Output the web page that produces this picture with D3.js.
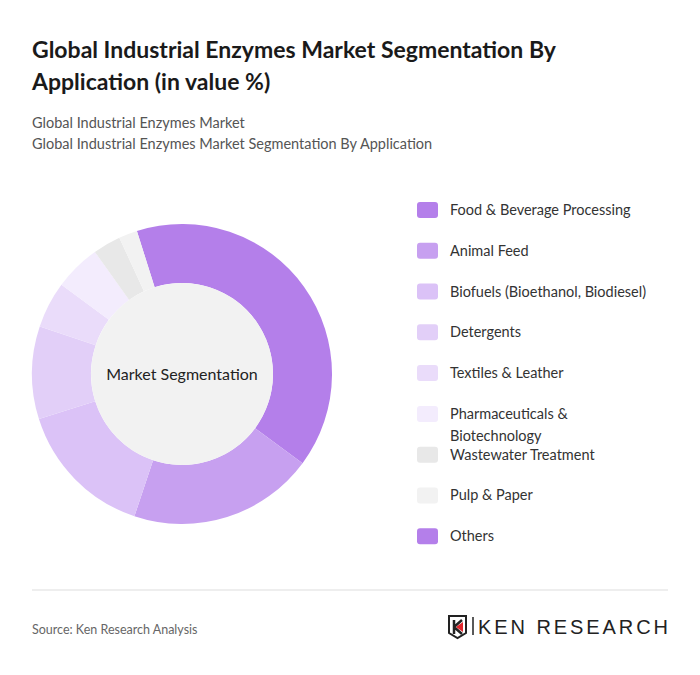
<!DOCTYPE html>
<html><head><meta charset="utf-8">
<script src="https://cdn.jsdelivr.net/npm/d3@7"></script>
<style>
body{margin:0;background:#fff;font-family:Lato,"Open Sans",sans-serif;}
</style></head>
<body><svg id="chart" width="700" height="675"></svg>
<script>
const categories = ["Food & Beverage Processing","Animal Feed","Biofuels (Bioethanol, Biodiesel)","Detergents","Textiles & Leather","Pharmaceuticals & Biotechnology","Wastewater Treatment","Pulp & Paper","Others"];
const values = [40, 20, 15, 10, 5, 5, 3, 2, 0];
const colors = ["#b47fea","#c7a0f0","#dbc2f7","#e2cff8","#eadcfa","#f3ecfd","#e8e8e8","#f2f2f2","#b47fea"];
const legendLines = [["Food & Beverage Processing"],["Animal Feed"],["Biofuels (Bioethanol, Biodiesel)"],["Detergents"],["Textiles & Leather"],["Pharmaceuticals &","Biotechnology"],["Wastewater Treatment"],["Pulp & Paper"],["Others"]];

const svg = d3.select("#chart");
svg.append("text").attr("x",32).attr("y",58).attr("font-size",23).attr("font-weight",700).attr("fill","#1a1a1a").text("Global Industrial Enzymes Market Segmentation By");
svg.append("text").attr("x",32).attr("y",90).attr("font-size",23).attr("font-weight",700).attr("fill","#1a1a1a").text("Application (in value %)");
svg.append("text").attr("x",32).attr("y",128).attr("font-size",14.5).attr("fill","#555").text("Global Industrial Enzymes Market");
svg.append("text").attr("x",32).attr("y",149).attr("font-size",14.5).attr("fill","#555").text("Global Industrial Enzymes Market Segmentation By Application");

const cx = 182, cy = 374, R = 150, r = 91;
const start = -17.5 * Math.PI / 180;
const pie = d3.pie().sort(null).startAngle(start).endAngle(start + 2 * Math.PI)(values);
const arc = d3.arc().innerRadius(r).outerRadius(R);
const g = svg.append("g").attr("transform",`translate(${cx},${cy})`);
g.selectAll("path").data(pie).join("path").attr("d",arc).attr("fill",(d,i)=>colors[i]);
g.append("circle").attr("r",r).attr("fill","#f2f2f2");
g.append("text").attr("text-anchor","middle").attr("dy",6).attr("font-size",16).attr("fill","#222").text("Market Segmentation");

const ly = d3.scaleBand().domain(categories).range([191, 558]);
const lg = svg.selectAll(".leg").data(categories).join("g").attr("transform",d=>`translate(417,${ly(d)})`);
lg.append("rect").attr("y",11).attr("width",21).attr("height",16).attr("rx",3).attr("fill",(d,i)=>colors[i]);
lg.each(function(d,i){
  const t = d3.select(this).append("text").attr("x",33).attr("font-size",14.5).attr("fill","#333");
  legendLines[i].forEach((l,j)=>t.append("tspan").attr("x",33).attr("y",24+j*22).text(l));
});

svg.append("line").attr("x1",32).attr("x2",668).attr("y1",590).attr("y2",590).attr("stroke","#ddd");
svg.append("text").attr("x",32).attr("y",634).attr("font-size",12.5).attr("fill","#666").text("Source: Ken Research Analysis");
const logo = svg.append("g").attr("transform","translate(448,615)");
logo.append("path").attr("d","M1 1H18V18L9.5 23L1 18Z").attr("fill","none").attr("stroke","#222").attr("stroke-width",2);
logo.append("path").attr("d","M6 5V19M6 12L14 5M6 12L14 19").attr("fill","none").attr("stroke","#222").attr("stroke-width",2.5);
logo.append("path").attr("d","M8 12L15 7V17Z").attr("fill","#e0262c");
logo.append("line").attr("x1",25).attr("x2",25).attr("y1",2).attr("y2",20).attr("stroke","#222").attr("stroke-width",1.5);
logo.append("text").attr("x",30).attr("y",19).attr("font-size",20).attr("font-family","Liberation Sans, Arial, sans-serif").attr("fill","#222").attr("textLength",190).text("KEN RESEARCH");
</script></body></html>
